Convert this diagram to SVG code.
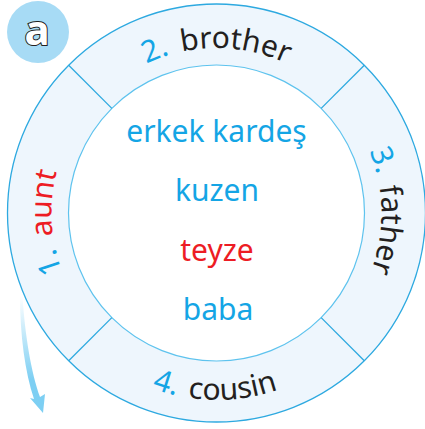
<svg xmlns="http://www.w3.org/2000/svg" width="425" height="429" viewBox="0 0 425 429">
<style>
.ring{fill:#EEF6FD;stroke:#2DA9E0;stroke-width:1.3}
.inner{fill:#FFFFFF;stroke:#5EC3EE;stroke-width:1.2}
.div{stroke:#2DA9E0;stroke-width:1.3}
.ctr{font-family:"Noto Sans",sans-serif;font-size:30px;text-anchor:middle}
.rt{font-family:"Noto Sans",sans-serif;font-size:30px}
.blue{fill:#14A5E5}
.red{fill:#ED1C24}
.blk{fill:#231F20}
</style>
<defs>
<path id="cw" d="M216.5,378 A165,165 0 1 1 216.5,48 A165,165 0 1 1 216.5,378"/>
<path id="ccw" d="M29.5,213 A187,187 0 0 0 403.5,213"/>
<linearGradient id="ag" x1="0" y1="296" x2="0" y2="380" gradientUnits="userSpaceOnUse">
<stop offset="0" stop-color="#7DCFF3" stop-opacity="0"/>
<stop offset="1" stop-color="#7DCFF3" stop-opacity="1"/>
</linearGradient>
</defs>
<g id="badge">
<circle cx="38" cy="32" r="31" fill="#A7DBF5"/>
<text x="37" y="45" font-family="Noto Sans,sans-serif" font-size="42" font-weight="bold" text-anchor="middle" fill="#FFFFFF" stroke="#231F20" stroke-width="2" paint-order="stroke">a</text>
</g>
<g id="wheel">
<circle class="ring" cx="216.5" cy="213" r="209"/>
<circle class="inner" cx="216.5" cy="213" r="148"/>
<line class="div" x1="111.85" y1="108.35" x2="68.7" y2="65.2"/>
<line class="div" x1="321.15" y1="108.35" x2="364.3" y2="65.2"/>
<line class="div" x1="321.15" y1="317.65" x2="364.3" y2="360.8"/>
<line class="div" x1="111.85" y1="317.65" x2="68.7" y2="360.8"/>
</g>
<g id="slot1"><text class="rt"><textPath href="#cw" startOffset="250" text-anchor="middle"><tspan class="blue">1.</tspan><tspan class="red" dx="12">aunt</tspan></textPath></text></g>
<g id="slot2"><text class="rt"><textPath href="#cw" startOffset="518" text-anchor="middle"><tspan class="blue">2.</tspan><tspan class="blk" dx="12">brother</tspan></textPath></text></g>
<g id="slot3"><text class="rt"><textPath href="#cw" startOffset="775" text-anchor="middle"><tspan class="blue">3.</tspan><tspan class="blk" dx="12">father</tspan></textPath></text></g>
<g id="slot4"><text class="rt"><textPath href="#ccw" startOffset="292" text-anchor="middle"><tspan class="blue">4.</tspan><tspan class="blk" dx="12">cousin</tspan></textPath></text></g>
<g id="words">
<text class="ctr blue" x="216.5" y="142">erkek kardeş</text>
<text class="ctr blue" x="217" y="201">kuzen</text>
<text class="ctr red" x="217" y="261">teyze</text>
<text class="ctr blue" x="218" y="320">baba</text>
</g>
<g id="arrow">
<path d="M20,296 C20,335 25,372 34,399 L30,398 L43,413 L45,394 L40,397 C31,372 25,335 22.5,296 Z" fill="url(#ag)"/>
</g>
</svg>
